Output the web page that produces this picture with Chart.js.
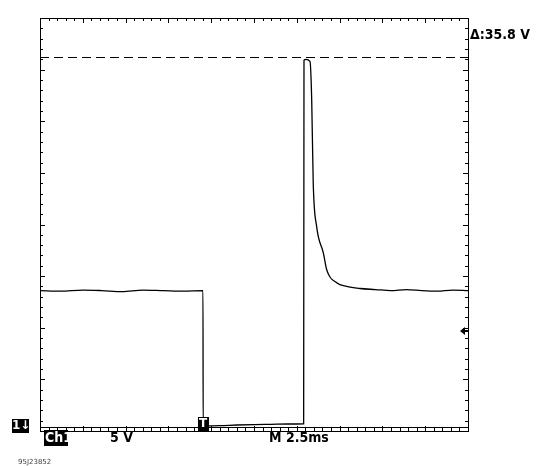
<!DOCTYPE html>
<html>
<head>
<meta charset="utf-8">
<script src="https://cdn.jsdelivr.net/npm/chart.js@4"></script>
<style>
  body { margin: 0; background: #fff; }
  #wrap { width: 542px; height: 466px; }
</style>
</head>
<body>
<div id="wrap"><canvas id="scope"></canvas></div>
<script>
// Time in ms (2.5 ms/div, 10 div), voltage in V (5 V/div)
const timeMs = [0, 1.2, 2.5, 3.6, 4.8, 6.0, 7.2, 8.4, 9.52, 9.53, 10.5, 11.5, 12.5, 13.5, 14.5, 15.4, 15.42,
  15.52, 15.77, 15.87, 15.96, 16.16, 16.55, 16.75, 17.33, 17.91, 18.69, 19.6, 20.5, 21.4, 22.3, 23.2, 24.1, 25];
const volts = [13.2, 13.15, 13.25, 13.2, 13.1, 13.25, 13.2, 13.15, 13.2, 0.1, 0.12, 0.18, 0.22, 0.25, 0.28, 0.3, 35.5,
  35.6, 35.4, 31.7, 23.6, 19.4, 16.85, 15.2, 13.95, 13.6, 13.4, 13.3, 13.2, 13.3, 13.2, 13.15, 13.25, 13.2];
const deltaV = 35.8;
const labels = { delta: '\u0394:35.8 V', ch: 'Ch1', scale: '5 V', time: 'M 2.5ms', id: '95J23852' };

const scopeDeco = {
  id: 'scopeDeco',
  afterDraw(chart) {
    const { ctx, chartArea: a, scales: { x, y } } = chart;
    ctx.save();
    ctx.strokeStyle = '#000';
    ctx.lineWidth = 1;
    ctx.strokeRect(a.left + 0.5, a.top + 0.5, a.right - a.left, a.bottom - a.top);
    // minor ticks on border (5 per division)
    ctx.beginPath();
    for (let i = 0; i <= 50; i++) {
      const px = Math.round(a.left + (a.right - a.left) * i / 50) + 0.5;
      const len = i % 5 === 0 ? 5 : 3;
      ctx.moveTo(px, a.top); ctx.lineTo(px, a.top + len);
      ctx.moveTo(px, a.bottom); ctx.lineTo(px, a.bottom - len);
    }
    for (let i = 0; i <= 40; i++) {
      const py = Math.round(a.top + (a.bottom - a.top) * i / 40) + 0.5;
      const len = i % 5 === 0 ? 5 : 3;
      ctx.moveTo(a.left, py); ctx.lineTo(a.left + len, py);
      ctx.moveTo(a.right, py); ctx.lineTo(a.right - len, py);
    }
    ctx.stroke();
    // bottom double line
    ctx.beginPath();
    ctx.moveTo(a.left, a.bottom - 3.5); ctx.lineTo(a.right, a.bottom - 3.5);
    ctx.stroke();
    // dashed delta cursor
    const yd = Math.round(y.getPixelForValue(deltaV)) + 0.5;
    ctx.setLineDash([9, 5]);
    ctx.beginPath();
    ctx.moveTo(a.left, yd); ctx.lineTo(a.right, yd);
    ctx.stroke();
    ctx.setLineDash([]);
    // texts
    ctx.fillStyle = '#000';
    ctx.font = 'bold 14px "Liberation Sans Narrow", "DejaVu Sans Condensed", sans-serif';
    ctx.textBaseline = 'middle';
    ctx.fillText(labels.delta, a.right + 2, 35);
    ctx.fillText(labels.scale, 110, 438);
    ctx.fillText(labels.time, 269, 438);
    ctx.fillRect(44, 430, 24, 16);
    ctx.fillRect(12, 419, 17, 14);
    const tx = x.getPixelForValue(9.52);
    ctx.fillRect(tx - 5, 417, 11, 14);
    ctx.fillStyle = '#fff';
    ctx.fillText(labels.ch, 45, 438);
    ctx.font = 'bold 12px "DejaVu Sans", sans-serif';
    ctx.fillText('1\u2193', 12, 426);
    ctx.fillText('T', tx - 4, 424);
    // trigger level arrow
    ctx.fillStyle = '#000';
    ctx.beginPath();
    ctx.moveTo(460, 331); ctx.lineTo(465, 327); ctx.lineTo(465, 335); ctx.closePath();
    ctx.fill();
    ctx.fillRect(465, 330, 3, 2);
    ctx.font = '7px "DejaVu Sans", sans-serif';
    ctx.fillStyle = '#444';
    ctx.fillText(labels.id, 18, 462);
    ctx.restore();
  }
};

new Chart(document.getElementById('scope'), {
  type: 'scatter',
  data: {
    datasets: [{
      data: timeMs.map((t, i) => ({ x: t, y: volts[i] })),
      showLine: true,
      borderColor: '#000',
      borderWidth: 1.3,
      pointRadius: 0,
      cubicInterpolationMode: 'monotone'
    }]
  },
  options: {
    responsive: true,
    maintainAspectRatio: false,
    animation: false,
    layout: { padding: { left: 40, right: 74, top: 18, bottom: 35 } },
    plugins: { legend: { display: false }, tooltip: { enabled: false } },
    scales: {
      x: { type: 'linear', min: 0, max: 25, display: false },
      y: { min: -0.4, max: 39.6, display: false }
    }
  },
  plugins: [scopeDeco]
});
</script>
</body>
</html>
